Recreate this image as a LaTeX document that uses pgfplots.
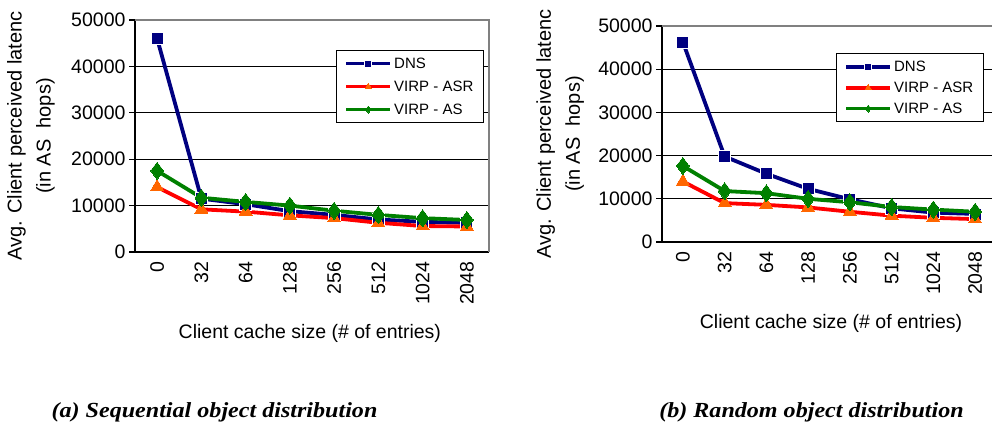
\documentclass[border=0pt]{standalone}
\usepackage{pgfplots}
\pgfplotsset{compat=1.18}
\usepackage{fontspec}
\setmainfont{Liberation Sans}
\newfontfamily\capfont{Liberation Serif}

\definecolor{dnsblue}{RGB}{0,0,128}
\definecolor{asrred}{RGB}{255,0,0}
\definecolor{asrorange}{RGB}{255,102,0}
\definecolor{asgreen}{RGB}{0,128,0}

% data
\pgfplotstableread{
x dns asr as
0 46000 14000 17500
1 11500 9200 11700
2 10300 8700 10800
3 8800 7900 10000
4 8000 7300 8900
5 7000 6300 8000
6 6500 5600 7300
7 6300 5500 6900
}\seqdata
\pgfplotstableread{
x dns asr as
0 46300 14000 17600
1 19800 9000 11800
2 15800 8600 11300
3 12300 8000 10000
4 9900 7000 9200
5 7800 6100 8100
6 6800 5600 7500
7 6500 5300 7000
}\randdata

\pgfplotsset{
  excelchart/.style={
    scale only axis,
    anchor=south west,
    xmin=-0.5, xmax=7.5,
    ymin=0, ymax=50000,
    ytick={0,10000,...,50000},
    xtick={0,...,7},
    xticklabels={0,32,64,128,256,512,1024,2048},
    axis x line*=bottom,
    axis y line*=left,
    axis line style={black, line width=1.5pt, -},
    ymajorgrids,
    grid style={black, line width=1.2pt},
    tick align=outside,
    major tick length=6pt,
    xtick style={draw=none},
    ytick style={black, line width=1.2pt},
    scaled y ticks=false,
    /pgf/number format/.cd, fixed, 1000 sep={}, assume math mode=true,
    /pgfplots/.cd,
    tick label style={font=\fontsize{19.5}{22}\selectfont},
    xticklabel style={rotate=90, anchor=east},
    ylabel={Avg. Client perceived latenc\\(in AS\ \ hops)},
    ylabel style={align=center, font=\fontsize{20}{29}\selectfont, anchor=center},
    xlabel={Client cache size (\# of entries)},
    xlabel style={font=\fontsize{19.5}{22}\selectfont, anchor=center},
    legend cell align=left,
    legend style={draw=black, line width=1.3pt, fill=white, anchor=north east,
      font=\fontsize{15}{17}\selectfont, inner xsep=8pt, inner ysep=5pt,
      row sep=7pt, nodes={inner sep=2pt}},
    legend image code/.code={\draw[mark repeat=2, mark phase=2, #1, mark size=3.5pt]
      plot coordinates {(0pt,0pt) (22pt,0pt) (44pt,0pt)};},
    after end axis/.code={\draw[gray, line width=1.5pt]
      (rel axis cs:0,1) -- (rel axis cs:1,1) -- (rel axis cs:1,0);},
  },
  dnsline/.style={dnsblue, line width=3.8pt, mark=square*, mark size=6pt,
    mark options={fill=dnsblue, draw=white, line width=0.8pt}},
  asrline/.style={asrred, line width=3.8pt, mark=triangle*, mark size=7.5pt,
    mark options={fill=asrorange, draw=asrorange, line width=0pt}},
  asline/.style={asgreen, line width=3.8pt, mark=diamond*, mark size=8.5pt,
    mark options={fill=asgreen, draw=asgreen, line width=0pt}},
}

\begin{document}
\begin{tikzpicture}
\path[use as bounding box] (0,0) rectangle (992pt,424pt);

\begin{axis}[excelchart,
  at={(135pt,172pt)}, width=354pt, height=232pt,
  ylabel style={at={(axis description cs:-0.294,0.5)}},
  xlabel style={at={(axis description cs:0.494,-0.349)}},
  legend style={at={(axis description cs:0.986,0.871)}},
]
\addplot[dnsline] table[x=x, y=dns] {\seqdata};
\addlegendentry{DNS}
\addplot[asrline] table[x=x, y=asr] {\seqdata};
\addlegendentry{VIRP - ASR}
\addplot[asline] table[x=x, y=as] {\seqdata};
\addlegendentry{VIRP - AS}
\end{axis}

\begin{axis}[excelchart,
  at={(662pt,182pt)}, width=334pt, height=216pt,
  ylabel style={at={(axis description cs:-0.305,0.5)}},
  xlabel style={at={(axis description cs:0.506,-0.375)}},
  legend style={at={(axis description cs:0.964,0.875)}, row sep=5pt},
]
\addplot[dnsline] table[x=x, y=dns] {\randdata};
\addlegendentry{DNS}
\addplot[asrline] table[x=x, y=asr] {\randdata};
\addlegendentry{VIRP - ASR}
\addplot[asline] table[x=x, y=as] {\randdata};
\addlegendentry{VIRP - AS}
\end{axis}

\node[anchor=base, xscale=1.12, font=\capfont\bfseries\itshape\fontsize{21.5}{24}\selectfont]
  at (214.5pt,7pt) {(a) Sequential object distribution};
\node[anchor=base, xscale=1.12, font=\capfont\bfseries\itshape\fontsize{21.5}{24}\selectfont]
  at (811.5pt,7pt) {(b) Random object distribution};
\end{tikzpicture}
\end{document}
